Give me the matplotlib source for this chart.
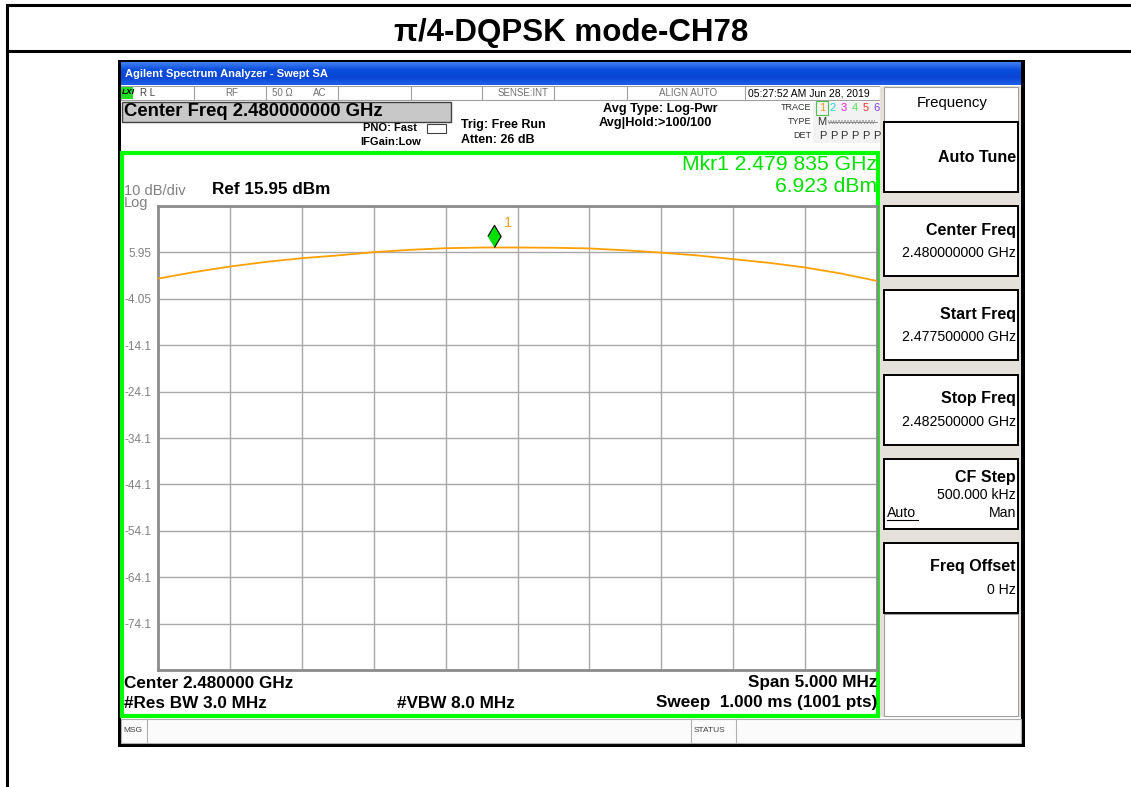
import numpy as np
import matplotlib
matplotlib.use("Agg")
import matplotlib.pyplot as plt
from matplotlib.patches import Rectangle
from matplotlib.colors import LinearSegmentedColormap
from matplotlib.transforms import ScaledTranslation

plt.rcParams['font.family'] = ['Liberation Sans', 'DejaVu Sans']

W, H = 1131, 787

# trace
freq_ghz = [2.47750, 2.47775, 2.47800, 2.47825, 2.47850, 2.47875, 2.47900,
            2.47925, 2.47950, 2.47975, 2.48000, 2.48025, 2.48050, 2.48075,
            2.48100, 2.48125, 2.48150, 2.48175, 2.48200, 2.48225, 2.48250]
level_dbm = [0.3, 1.7, 2.9, 3.9, 4.7, 5.3, 6.0, 6.5, 6.85, 7.0, 7.0,
             6.95, 6.8, 6.4, 5.9, 5.3, 4.5, 3.7, 2.7, 1.4, -0.2]
ref_level = 15.95
db_per_div = 10
y_labels = ["", "5.95", "-4.05", "-14.1", "-24.1", "-34.1", "-44.1",
            "-54.1", "-64.1", "-74.1", ""]
mkr_freq = 2.479835
mkr_level = 6.923

title = "\u03c0/4-DQPSK mode-CH78"
softkeys = [("Auto Tune", ""), ("Center Freq", "2.480000000 GHz"),
            ("Start Freq", "2.477500000 GHz"), ("Stop Freq", "2.482500000 GHz"),
            ("CF Step", "500.000 kHz"), ("Freq Offset", "0 Hz")]
trace_colors = ['#f0a020', '#20d0e0', '#e020e0', '#50e050', '#f03030', '#8040f0']

fig = plt.figure(figsize=(W / 100, H / 100), dpi=100)
bg = fig.add_axes([0, 0, 1, 1])
bg.set_xlim(0, W)
bg.set_ylim(H, 0)
bg.axis('off')


def box(x0, y0, x1, y1, fc='white', ec='none', lw=1, z=1):
    bg.add_patch(Rectangle((x0, y0), x1 - x0, y1 - y0, fc=fc, ec=ec, lw=lw, zorder=z))


def txt(x, y, s, size=9, ha='left', color='black', weight='normal', **kw):
    bg.text(x, y, s, fontsize=size, ha=ha, va='center', color=color,
            fontweight=weight, zorder=5, **kw)


# page frame and heading
bg.plot([7, 7], [5, H], color='black', lw=2.2, zorder=3)
bg.plot([7, W], [5, 5], color='black', lw=2.2, zorder=3)
bg.plot([7, W], [51, 51], color='black', lw=2.2, zorder=3)
txt(571, 33, title, size=22.5, ha='center', weight='bold')

# window frame
box(118, 60, 1025, 747, fc='black')
box(121, 85, 1021, 744, fc='white')
grad = np.linspace(0, 1, 24).reshape(-1, 1)
cmap = LinearSegmentedColormap.from_list('xp', ['#3d7ff0', '#0b4ddd', '#0a46d4', '#1d5ee8'])
bg.imshow(grad, cmap=cmap, aspect='auto', extent=(121, 1021, 85, 62), zorder=2)
txt(125, 74, "Agilent Spectrum Analyzer - Swept SA", size=8, color='white', weight='bold')

# status row
box(121, 86, 880, 100, fc='white', ec='#a0a0a0', lw=0.8, z=2)
for sx in [194, 266, 338, 411, 482, 554, 627, 745]:
    bg.plot([sx, sx], [86, 100], color='#a0a0a0', lw=0.8, zorder=3)
box(121, 87, 133, 99, fc='#22dd22', z=3)
txt(122, 93, "LXI", size=6, weight='bold', style='italic')
txt(140, 93, "R L", size=7, color='#404040')
txt(225, 93, "RF", size=7, color='#707070')
txt(272, 93, "50 \u03a9", size=7, color='#707070')
txt(313, 93, "AC", size=7, color='#707070')
txt(498, 93, "SENSE:INT", size=7, color='#707070')
txt(659, 93, "ALIGN AUTO", size=7, color='#707070')
txt(748, 93, "05:27:52 AM Jun 28, 2019", size=7.5)

# settings area
box(122, 102, 451, 122, fc='#c8c8c8', ec='#404040', lw=1, z=2)
txt(124, 112, "Center Freq 2.480000000 GHz", size=13.3, weight='bold')
txt(417, 128, "PNO: Fast", size=8, ha='right', weight='bold')
txt(421, 142, "IFGain:Low", size=8, ha='right', weight='bold')
box(427, 124, 446, 133, fc='white', ec='#404040', lw=0.8, z=3)
txt(461, 125, "Trig: Free Run", size=9, weight='bold')
txt(461, 140, "Atten: 26 dB", size=9, weight='bold')
txt(603, 109, "Avg Type: Log-Pwr", size=9.2, weight='bold')
txt(599, 123, "Avg|Hold:>100/100", size=9.2, weight='bold')
box(813, 102, 880, 143, fc='#f2f2f2', z=2)
txt(811, 108, "TRACE", size=6.5, ha='right', color='#303030')
txt(811, 122, "TYPE", size=6.5, ha='right', color='#303030')
txt(811, 136, "DET", size=6.5, ha='right', color='#303030')
for i, c in enumerate(trace_colors):
    txt(819 + i * 10.8, 108, str(i + 1), size=8, color=c)
    txt(819 + i * 10.8, 136, "P", size=8, color='#303030')
box(816, 101, 828, 115, fc='none', ec='#50c050', lw=0.8, z=4)
txt(817, 122, "M", size=8, color='#303030')
txt(828, 122, "WWWWWWWW", size=4.6, color='#808080')
bg.plot([828, 877], [122, 122], color='#808080', lw=0.6, zorder=5)

# green measurement frame
box(122, 153, 878, 716, fc='white', ec='#00ff00', lw=3, z=2)
txt(877, 164, "Mkr1 2.479 835 GHz", size=15.2, ha='right', color='#00e000')
txt(877, 186, "6.923 dBm", size=15.2, ha='right', color='#00e000')
txt(124, 191, "10 dB/div", size=10.5, color='#808080')
txt(124, 203, "Log", size=10.5, color='#808080')
txt(212, 190, "Ref 15.95 dBm", size=12.3, weight='bold')
txt(124, 683, "Center 2.480000 GHz", size=12.3, weight='bold')
txt(877, 683, "Span 5.000 MHz", size=12.3, ha='right', weight='bold')
txt(124, 703, "#Res BW 3.0 MHz", size=12.3, weight='bold')
txt(397, 703, "#VBW 8.0 MHz", size=12.3, weight='bold')
txt(877, 703, "Sweep  1.000 ms (1001 pts)", size=12.3, ha='right', weight='bold')

# message bar
box(121, 719, 1021, 743, fc='#fbfbfb', ec='#b0b0b0', lw=0.8, z=2)
for sx in [147, 691, 736]:
    bg.plot([sx, sx], [719, 743], color='#b0b0b0', lw=0.8, zorder=3)
txt(123, 731, "MSG", size=6, color='#404040')
txt(694, 731, "STATUS", size=6, color='#404040')

# softkey panel
box(880, 86, 1021, 717, fc='#e4e1da', z=2)
box(884, 87, 1018, 121, fc='white', ec='#a0a0a0', lw=0.8, z=3)
txt(952, 103, "Frequency", size=10.8, ha='center')
for i, (name, value) in enumerate(softkeys):
    top = 122 + i * 84.2
    box(884, top, 1018, top + 70, fc='white', ec='black', lw=1.4, z=3)
    if name == "CF Step":
        txt(1016, top + 19, name, size=11.5, ha='right', weight='bold')
        txt(1016, top + 36, value, size=10.2, ha='right')
        txt(887, top + 54, "Auto", size=10.2)
        bg.plot([887, 918], [top + 61, top + 61], color='black', lw=0.8, zorder=5)
        txt(1016, top + 54, "Man", size=10.2, ha='right')
    elif value:
        txt(1016, top + 24, name, size=11.5, ha='right', weight='bold')
        txt(1016, top + 47, value, size=10.2, ha='right')
    else:
        txt(1016, top + 36, name, size=11.5, ha='right', weight='bold')
box(884, 614, 1018, 716, fc='white', ec='#a0a0a0', lw=0.8, z=3)

# graticule with trace
left, right, top, bottom = 158, 877, 206, 670
ax = fig.add_axes([left / W, 1 - bottom / H, (right - left) / W, (bottom - top) / H])
ax.set_zorder(3)
ax.set_xlim(freq_ghz[0], freq_ghz[-1])
ax.set_ylim(ref_level - 10 * db_per_div, ref_level)
ax.set_xticks(np.linspace(freq_ghz[0], freq_ghz[-1], 11))
ax.set_yticks([ref_level - db_per_div * k for k in range(11)])
ax.set_yticklabels(y_labels)
ax.set_xticklabels([])
ax.tick_params(length=0, labelsize=8.5, labelcolor='#808080', pad=5)
ax.grid(True, color='#a8a8a8', lw=1)
for sp in ax.spines.values():
    sp.set_color('#8c8c8c')
    sp.set_linewidth(2)
ax.plot(freq_ghz, level_dbm, color='#ffa000', lw=1.3, zorder=3)

shift = ax.transData + ScaledTranslation(0, 0.12, fig.dpi_scale_trans)
ax.plot([mkr_freq], [mkr_level], transform=shift, marker=[(0, -1), (0.6, 0), (0, 1), (-0.6, 0)],
        markersize=16, markerfacecolor='#00e000', markeredgecolor='black',
        markeredgewidth=0.8, linestyle='none', zorder=4, clip_on=False)
label_shift = ax.transData + ScaledTranslation(0.1, 0.25, fig.dpi_scale_trans)
ax.text(mkr_freq, mkr_level, "1", transform=label_shift, color='#f0a020', fontsize=10.5,
        ha='left', va='center')

fig.savefig('out.png', dpi=100)
